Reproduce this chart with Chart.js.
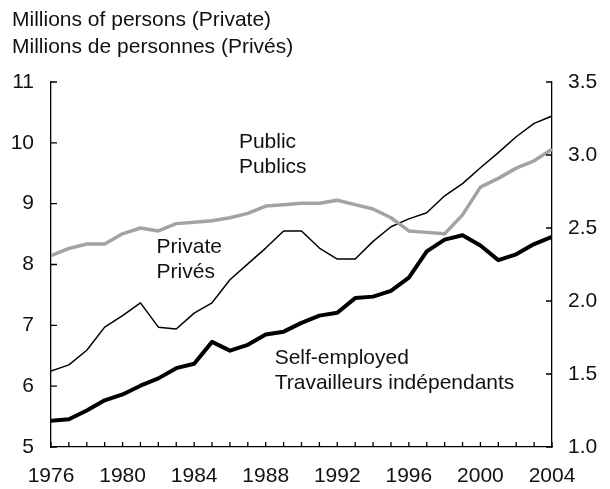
<!DOCTYPE html>
<html>
<head>
<meta charset="utf-8">
<script src="https://cdn.jsdelivr.net/npm/chart.js@4"></script>
<style>
  html, body { margin: 0; padding: 0; background: #fff; }
  #wrap { position: relative; width: 610px; height: 489px; }
</style>
</head>
<body>
<div id="wrap"><canvas id="graph"></canvas></div>
<script>
// Données
const years = [1976, 1977, 1978, 1979, 1980, 1981, 1982, 1983, 1984, 1985, 1986, 1987, 1988, 1989, 1990,
               1991, 1992, 1993, 1994, 1995, 1996, 1997, 1998, 1999, 2000, 2001, 2002, 2003, 2004];
// left axis
const privateValues = [6.25, 6.35, 6.59, 6.97, 7.16, 7.37, 6.97, 6.94, 7.20, 7.37, 7.75, 8.01, 8.27, 8.55, 8.55,
                       8.27, 8.09, 8.09, 8.38, 8.62, 8.75, 8.85, 9.13, 9.33, 9.59, 9.84, 10.10, 10.32, 10.44];
// right axis
const publicValues = [2.31, 2.36, 2.39, 2.39, 2.46, 2.50, 2.48, 2.53, 2.54, 2.55, 2.57, 2.60, 2.65, 2.66, 2.67,
                      2.67, 2.69, 2.66, 2.63, 2.57, 2.48, 2.47, 2.46, 2.59, 2.78, 2.84, 2.91, 2.96, 3.04];
const selfEmployedValues = [1.18, 1.19, 1.25, 1.32, 1.36, 1.42, 1.47, 1.54, 1.57, 1.72, 1.66, 1.70, 1.77, 1.79, 1.85,
                            1.90, 1.92, 2.02, 2.03, 2.07, 2.16, 2.34, 2.42, 2.45, 2.38, 2.28, 2.32, 2.39, 2.44];
const leftTicks = [5, 6, 7, 8, 9, 10, 11];
const rightTicks = [1.0, 1.5, 2.0, 2.5, 3.0, 3.5];
const yearLabels = [1976, 1980, 1984, 1988, 1992, 1996, 2000, 2004];

const titleLines = ['Millions of persons (Private)', 'Millions de personnes (Privés)'];
// étiquettes : [x (année), y, axe, lignes]
const notes = [
    { x: 1986.5, y: 3.09, axis: 'y2', lines: ['Public', 'Publics'] },
    { x: 1981.9, y: 8.29, axis: 'y', lines: ['Private', 'Privés'] },
    { x: 1988.5, y: 1.61, axis: 'y2', lines: ['Self-employed', 'Travailleurs indépendants'] }
];

const FAMILY = '"Liberation Sans", Arial, sans-serif';
const FONT = '21px ' + FAMILY;

function toPoints(vals) {
    return vals.map((v, i) => ({ x: years[i], y: v }));
}

// Titre, ticks intérieurs et annotations
const decorPlugin = {
    id: 'decor',
    afterDatasetsDraw(chart) {
        const c = chart.ctx;
        const xs = chart.scales.x, yl = chart.scales.y, yr = chart.scales.y2;
        const area = chart.chartArea;
        c.save();
        c.strokeStyle = '#000';
        c.lineWidth = 1.3;
        c.beginPath();
        years.forEach((yr0) => {
            const px = xs.getPixelForValue(yr0);
            c.moveTo(px, area.bottom);
            c.lineTo(px, area.bottom - 5);
        });
        leftTicks.forEach((v) => {
            const py = yl.getPixelForValue(v);
            c.moveTo(area.left, py);
            c.lineTo(area.left + 6, py);
        });
        rightTicks.forEach((v) => {
            const py = yr.getPixelForValue(v);
            c.moveTo(area.right, py);
            c.lineTo(area.right - 6, py);
        });
        c.stroke();

        c.fillStyle = '#111';
        c.font = FONT;
        c.textBaseline = 'middle';
        c.textAlign = 'left';
        titleLines.forEach((t, i) => c.fillText(t, 12, 20 + i * 27));
        notes.forEach((n) => {
            const px = xs.getPixelForValue(n.x);
            const py = chart.scales[n.axis].getPixelForValue(n.y);
            n.lines.forEach((t, i) => c.fillText(t, px, py + i * 25));
        });
        c.restore();
    }
};

const tickFont = { family: FAMILY, size: 21 };

var ctx = document.getElementById('graph').getContext('2d');
var Graph = new Chart(ctx, {
    type: 'line',
    data: {
        datasets: [
            { label: 'Public', data: toPoints(publicValues), yAxisID: 'y2', borderColor: '#a3a3a3', borderWidth: 3.5 },
            { label: 'Private', data: toPoints(privateValues), yAxisID: 'y', borderColor: '#000', borderWidth: 1.5 },
            { label: 'Self-employed', data: toPoints(selfEmployedValues), yAxisID: 'y2', borderColor: '#000', borderWidth: 4 }
        ]
    },
    options: {
        responsive: true,
        maintainAspectRatio: false,
        animation: false,
        elements: { point: { radius: 0 }, line: { tension: 0, borderJoinStyle: 'round' } },
        layout: { padding: { top: 82, left: 0, right: 0, bottom: 0 } },
        plugins: { legend: { display: false }, tooltip: { enabled: false } },
        scales: {
            x: {
                type: 'linear', min: 1976, max: 2004,
                afterBuildTicks: (s) => { s.ticks = yearLabels.map((v) => ({ value: v })); },
                afterFit: (s) => { s.height = 42; },
                grid: { display: false, drawTicks: false },
                border: { display: true, color: '#000', width: 1.3 },
                ticks: { color: '#111', font: tickFont, padding: 17, maxRotation: 0, autoSkip: false, callback: (v) => String(v) }
            },
            y: {
                position: 'left', min: 5, max: 11,
                afterBuildTicks: (s) => { s.ticks = leftTicks.map((v) => ({ value: v })); },
                afterFit: (s) => { s.width = 51; },
                grid: { display: false, drawTicks: false },
                border: { display: true, color: '#000', width: 1.3 },
                ticks: { color: '#111', font: tickFont, padding: 17, callback: (v) => String(v) }
            },
            y2: {
                position: 'right', min: 1.0, max: 3.5,
                afterBuildTicks: (s) => { s.ticks = rightTicks.map((v) => ({ value: v })); },
                afterFit: (s) => { s.width = 58; },
                grid: { display: false, drawTicks: false },
                border: { display: true, color: '#000', width: 1.3 },
                ticks: { color: '#111', font: tickFont, padding: 16, callback: (v) => v.toFixed(1) }
            }
        }
    },
    plugins: [decorPlugin]
});
</script>
</body>
</html>
